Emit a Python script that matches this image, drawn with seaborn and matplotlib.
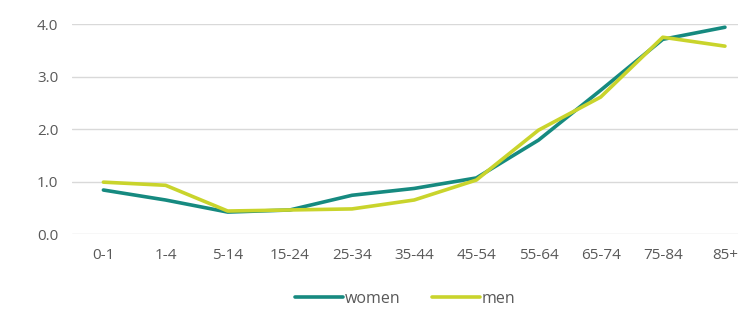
import pandas as pd
import numpy as np
import seaborn as sns
import matplotlib.pyplot as plt

age_groups = ["0-1", "1-4", "5-14", "15-24", "25-34", "35-44", "45-54", "55-64", "65-74", "75-84", "85+"]
women = [0.84, 0.65, 0.42, 0.46, 0.74, 0.87, 1.07, 1.79, 2.74, 3.71, 3.94]
men = [0.99, 0.93, 0.44, 0.46, 0.48, 0.65, 1.03, 1.98, 2.61, 3.75, 3.58]

sns.set_style("white")
plt.rcParams['font.family'] = ['Open Sans', 'DejaVu Sans']

df = pd.DataFrame({"age": age_groups * 2,
                   "value": women + men,
                   "sex": ["women"] * len(women) + ["men"] * len(men)})

fig, ax = plt.subplots(figsize=(7.38, 3.13), dpi=100)
sns.lineplot(data=df, x="age", y="value", hue="sex", sort=False,
             palette={"women": "#168a80", "men": "#c9d42c"}, linewidth=2.6, ax=ax)

ax.set_ylim(0, 4)
ax.set_yticks([0, 1, 2, 3, 4])
ax.set_yticklabels(["0.0", "1.0", "2.0", "3.0", "4.0"])
ax.set_xlim(-0.5, 10.21)
ax.grid(axis="y", color="#d9d9d9", linewidth=1)
ax.set_axisbelow(True)
for s in ax.spines.values():
    s.set_visible(False)
ax.tick_params(axis="both", colors="#595959", labelsize=11, length=0, pad=10)
ax.set_xlabel("")
ax.set_ylabel("")

ax.legend(loc="upper center", bbox_to_anchor=(0.5, -0.2), ncol=2, frameon=False,
          fontsize=11.5, handlelength=3.0, handletextpad=0.1, columnspacing=2.0,
          labelcolor="#595959")

plt.subplots_adjust(left=0.098, right=1.0, top=0.923, bottom=0.252)
plt.savefig("out.png", dpi=100)
